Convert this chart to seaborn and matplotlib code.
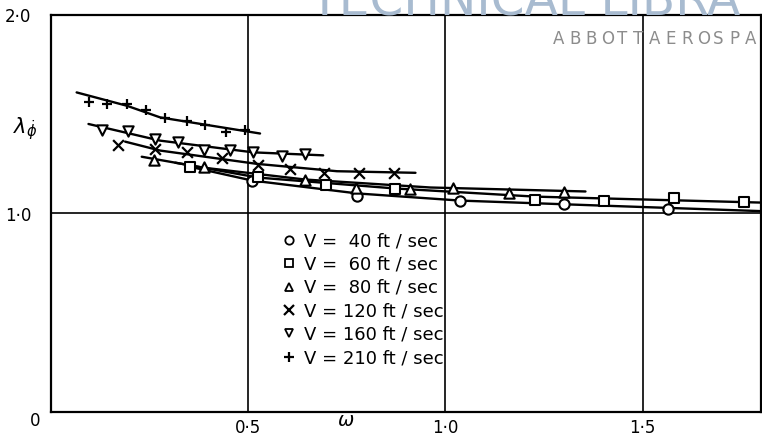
import matplotlib
matplotlib.use("Agg")
import matplotlib.pyplot as plt
import seaborn as sns
import pandas as pd
from matplotlib.lines import Line2D

# ---- data -------------------------------------------------------------
speeds = [40, 60, 80, 120, 160, 210]
labels = ["V =  40 ft / sec", "V =  60 ft / sec", "V =  80 ft / sec",
          "V = 120 ft / sec", "V = 160 ft / sec", "V = 210 ft / sec"]

# measured points (omega, lambda_phi_dot)
w_40 = [0.509, 0.776, 1.038, 1.300, 1.563]
l_40 = [1.166, 1.090, 1.065, 1.049, 1.024]
w_60 = [0.353, 0.526, 0.698, 0.873, 1.228, 1.402, 1.579, 1.757]
l_60 = [1.236, 1.182, 1.146, 1.124, 1.070, 1.065, 1.077, 1.057]
w_80 = [0.260, 0.387, 0.645, 0.772, 0.909, 1.019, 1.161, 1.300]
l_80 = [1.270, 1.233, 1.169, 1.129, 1.121, 1.129, 1.104, 1.106]
w_120 = [0.171, 0.264, 0.344, 0.433, 0.526, 0.607, 0.691, 0.780, 0.869]
l_120 = [1.347, 1.325, 1.308, 1.280, 1.246, 1.225, 1.205, 1.205, 1.203]
w_160 = [0.129, 0.196, 0.264, 0.323, 0.387, 0.454, 0.513, 0.586, 0.645]
l_160 = [1.421, 1.417, 1.375, 1.358, 1.322, 1.322, 1.308, 1.291, 1.300]
w_210 = [0.096, 0.142, 0.193, 0.241, 0.289, 0.345, 0.391, 0.444, 0.492]
l_210 = [1.563, 1.553, 1.553, 1.523, 1.482, 1.467, 1.447, 1.412, 1.422]

# faired curves through each set
cw_40 = [0.340, 0.510, 0.777, 1.038, 1.393, 1.800]
cl_40 = [1.241, 1.166, 1.101, 1.065, 1.040, 1.012]
cw_60 = [0.315, 0.525, 0.873, 1.228, 1.800]
cl_60 = [1.256, 1.181, 1.126, 1.085, 1.055]
cw_80 = [0.230, 0.386, 0.645, 0.962, 1.355]
cl_80 = [1.286, 1.231, 1.171, 1.131, 1.111]
cw_120 = [0.188, 0.277, 0.522, 0.725, 0.924]
cl_120 = [1.362, 1.317, 1.250, 1.213, 1.205]
cw_160 = [0.095, 0.277, 0.513, 0.690]
cl_160 = [1.451, 1.367, 1.308, 1.293]
cw_210 = [0.065, 0.192, 0.277, 0.530]
cl_210 = [1.610, 1.543, 1.484, 1.403]

x_ticks = [0.5, 1.0, 1.5]
x_tick_labels = ["0·5", "1·0", "1·5"]
y_ticks = [1.0, 2.0]
y_tick_labels = ["1·0", "2·0"]

points = [(w_40, l_40), (w_60, l_60), (w_80, l_80),
          (w_120, l_120), (w_160, l_160), (w_210, l_210)]
curves = [(cw_40, cl_40), (cw_60, cl_60), (cw_80, cl_80),
          (cw_120, cl_120), (cw_160, cl_160), (cw_210, cl_210)]
marker_set = ["o", "s", "^", "x", "v", "+"]

# ---- figure -----------------------------------------------------------
sns.set_theme(style="white")
plt.rcParams["font.family"] = ["DejaVu Sans"]
plt.rcParams["text.color"] = "black"
plt.rcParams["xtick.color"] = "black"
plt.rcParams["ytick.color"] = "black"

fig = plt.figure(figsize=(7.62, 4.36), dpi=100)
ax = fig.add_axes([51 / 762, 24 / 436, 710 / 762, 397 / 436])

for (cw, cl) in curves:
    sns.lineplot(x=cw, y=cl, ax=ax, color="black", lw=1.7,
                 estimator=None, sort=False, zorder=3)

for (w, l), m in zip(points, marker_set):
    df = pd.DataFrame({"omega": w, "lam": l})
    if m in ("x", "+"):
        sns.scatterplot(data=df, x="omega", y="lam", ax=ax, marker=m,
                        s=60, color="black", linewidth=1.6, zorder=4)
    else:
        sns.scatterplot(data=df, x="omega", y="lam", ax=ax, marker=m,
                        s=55, facecolor="white", edgecolor="black",
                        linewidth=1.5, zorder=4)

ax.set_xlim(0, 1.8)
ax.set_ylim(0, 2.0)
ax.set_xticks(x_ticks)
ax.set_xticklabels(x_tick_labels, fontsize=12)
ax.set_yticks(y_ticks)
ax.set_yticklabels(y_tick_labels, fontsize=12)
ax.tick_params(axis="x", length=0, pad=5)
ax.tick_params(axis="y", length=0, pad=14)
ax.set_xlabel("")
ax.set_ylabel("")
ax.grid(True, color="black", lw=1.2)
for sp in ax.spines.values():
    sp.set_color("black")
    sp.set_linewidth(1.6)

ax.text(-0.041, -0.045, "0", fontsize=12, ha="center", va="center",
        clip_on=False)
ax.text(0.746, -0.045, r"$\omega$", fontsize=14, ha="center", va="center",
        clip_on=False)
ax.text(-0.065, 1.43, r"$\lambda_{\dot{\phi}}$", fontsize=15, ha="center",
        va="center", clip_on=False)

handles = []
for m in marker_set:
    if m in ("x", "+"):
        h = Line2D([], [], ls="none", marker=m, color="black", ms=7, mew=1.6)
    else:
        h = Line2D([], [], ls="none", marker=m, mfc="white", mec="black",
                   ms=6, mew=1.3)
    handles.append(h)
ax.legend(handles, labels, loc="upper left",
          bbox_to_anchor=(284 / 762, 1 - 232 / 436),
          bbox_transform=fig.transFigure, frameon=False, fontsize=13,
          handlelength=0.6, handletextpad=0.5, labelspacing=0.3,
          borderpad=0, borderaxespad=0)

# library watermark
fig.text(440 / 762, 1 - 16 / 436, "TECH", fontsize=35,
         color="#a8bbd0", va="baseline", ha="right", zorder=10)
fig.text(440 / 762, 1 - 16 / 436, "NICAL LIBRA", fontsize=35,
         color="#a8bbd0", va="baseline", ha="left", zorder=10)
for i, ch in enumerate("ABBOTTAEROSPA"):
    fig.text((553 + 16 * i) / 762, 1 - 39 / 436, ch, fontsize=12,
             color="#8c8c8c", va="center", ha="left", zorder=10)

fig.savefig("out.png", dpi=100)
